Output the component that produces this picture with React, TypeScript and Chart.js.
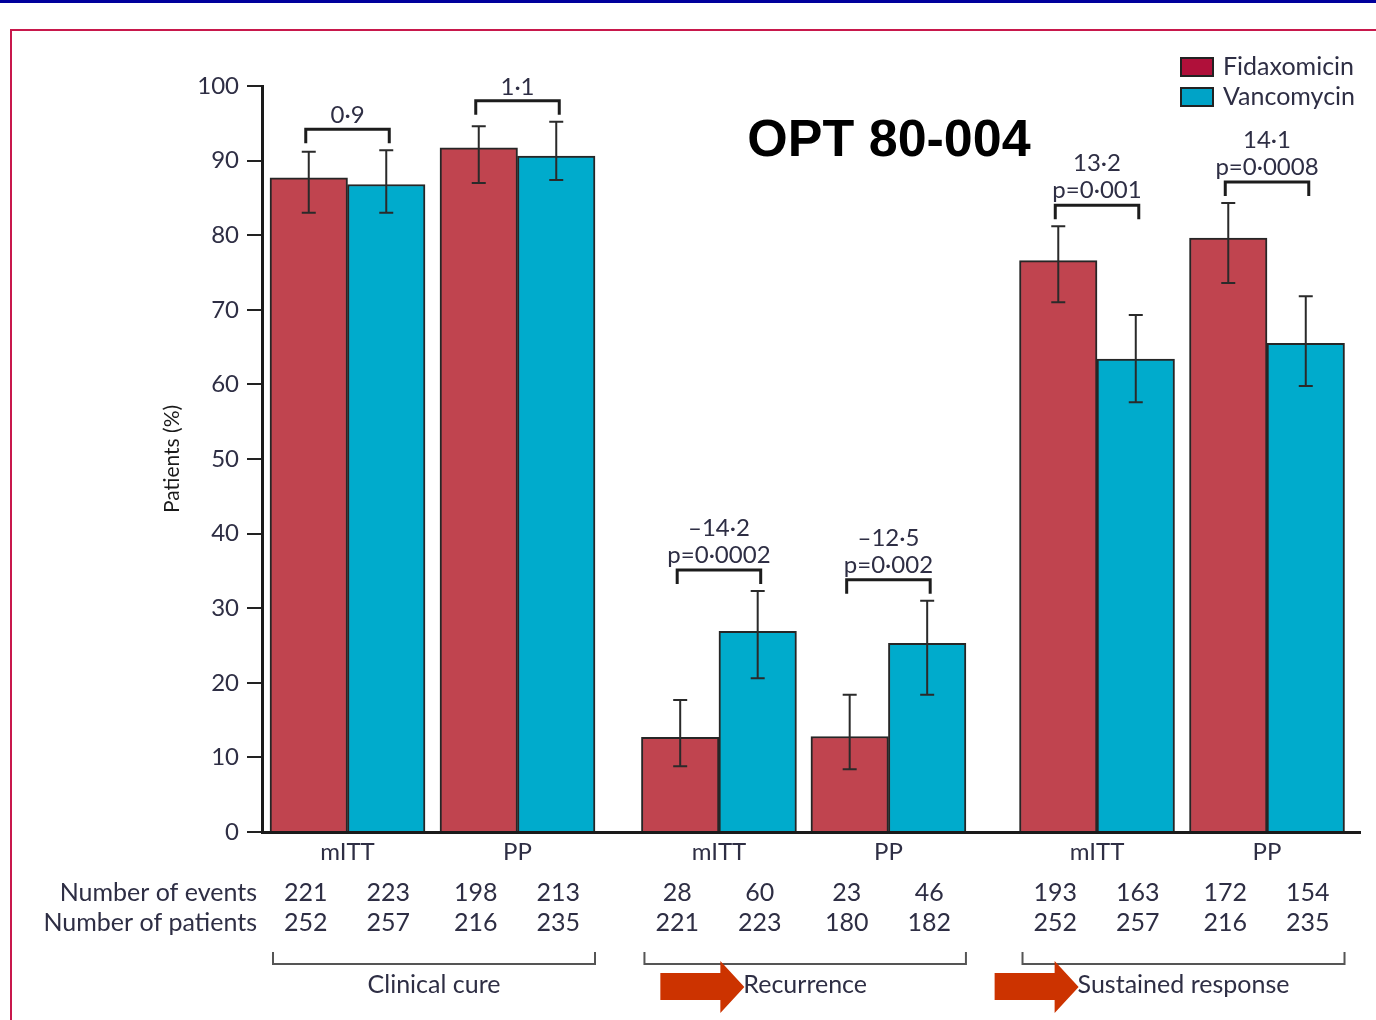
import { useEffect, useRef } from 'react';
import { Chart, registerables } from 'chart.js';

Chart.register(...registerables);

// ---- data ----
const populations = ['mITT', 'PP', 'mITT', 'PP', 'mITT', 'PP'];
const groupNames = ['Clinical cure', 'Recurrence', 'Sustained response'];
const groupMembers = [[0, 1], [2, 3], [4, 5]];
const xSlots = [0, 1, 2.185, 3.182, 4.409, 5.409];

const fidaxomicin = [87.7, 91.7, 12.7, 12.8, 76.6, 79.6];
const vancomycin = [86.8, 90.6, 26.9, 25.3, 63.4, 65.5];
const fidLow = [83.0, 87.0, 8.8, 8.4, 71.0, 73.6];
const fidHigh = [91.2, 94.6, 17.7, 18.4, 81.2, 84.3];
const vancLow = [83.0, 87.4, 20.6, 18.4, 57.6, 59.8];
const vancHigh = [91.4, 95.2, 32.3, 31.0, 69.3, 71.8];

const fidEvents = [221, 198, 28, 23, 193, 172];
const vancEvents = [223, 213, 60, 46, 163, 154];
const fidPatients = [252, 216, 221, 180, 252, 216];
const vancPatients = [257, 235, 223, 182, 257, 235];

const differences = ['0·9', '1·1', '–14·2', '–12·5', '13·2', '14·1'];
const pValues = ['', '', 'p=0·0002', 'p=0·002', 'p=0·001', 'p=0·0008'];

const yMin = 0;
const yMax = 100;
const yStep = 10;

const seriesNames = ['Fidaxomicin', 'Vancomycin'];
const barColors = ['#c0444f', '#00abcc'];
const legendColors = ['#b0103a', '#00a3c7'];
const titleText = 'OPT 80-004';
const rowLabels = ['Number of events', 'Number of patients'];

const FONT = 'Lato, "Open Sans", sans-serif';
const TEXT = '#2e2e44';

const decorPlugin = {
  id: 'decor',
  beforeDraw(chart: any) {
    const ctx = chart.ctx as CanvasRenderingContext2D;
    ctx.save();
    ctx.fillStyle = '#ffffff';
    ctx.fillRect(0, 0, chart.width, chart.height);
    ctx.fillStyle = '#00009c';
    ctx.fillRect(0, 0, chart.width, 3);
    ctx.strokeStyle = '#c8184c';
    ctx.lineWidth = 2;
    ctx.beginPath();
    ctx.moveTo(11, chart.height);
    ctx.lineTo(11, 30);
    ctx.lineTo(chart.width, 30);
    ctx.stroke();
    ctx.restore();
  },
  afterDatasetsDraw(chart: any) {
    const ctx = chart.ctx as CanvasRenderingContext2D;
    const yScale = chart.scales.y;
    const m0 = chart.getDatasetMeta(0);
    const m1 = chart.getDatasetMeta(1);
    const lows = [fidLow, vancLow];
    const highs = [fidHigh, vancHigh];
    ctx.save();

    // error bars
    [m0, m1].forEach((meta: any, d: number) => {
      meta.data.forEach((bar: any, i: number) => {
        const x = bar.x;
        const yl = yScale.getPixelForValue(lows[d][i]);
        const yh = yScale.getPixelForValue(highs[d][i]);
        ctx.strokeStyle = '#2a2a2a';
        ctx.lineWidth = 2;
        ctx.beginPath();
        ctx.moveTo(x, yl);
        ctx.lineTo(x, yh);
        ctx.moveTo(x - 7, yl);
        ctx.lineTo(x + 7, yl);
        ctx.moveTo(x - 7, yh);
        ctx.lineTo(x + 7, yh);
        ctx.stroke();
      });
    });

    // comparison brackets
    for (let i = 0; i < populations.length; i++) {
      const x1 = m0.data[i].x - 3;
      const x2 = m1.data[i].x + 3;
      const top = Math.min(yScale.getPixelForValue(fidHigh[i]), yScale.getPixelForValue(vancHigh[i]));
      const by = top - 21;
      ctx.strokeStyle = '#1c1c1c';
      ctx.lineWidth = 3;
      ctx.beginPath();
      ctx.moveTo(x1, by + 14);
      ctx.lineTo(x1, by);
      ctx.lineTo(x2, by);
      ctx.lineTo(x2, by + 14);
      ctx.stroke();
      ctx.fillStyle = TEXT;
      ctx.font = `24px ${FONT}`;
      ctx.textAlign = 'center';
      ctx.textBaseline = 'alphabetic';
      const cx = (x1 + x2) / 2;
      if (pValues[i]) {
        ctx.fillText(pValues[i], cx, by - 7);
        ctx.fillText(differences[i], cx, by - 34);
      } else {
        ctx.fillText(differences[i], cx, by - 6);
      }
    }

    // population labels
    ctx.textBaseline = 'middle';
    ctx.textAlign = 'center';
    ctx.fillStyle = TEXT;
    ctx.font = `24px ${FONT}`;
    for (let i = 0; i < populations.length; i++) {
      const cx = (m0.data[i].x + m1.data[i].x) / 2;
      ctx.fillText(populations[i], cx, 852);
    }

    // table
    ctx.font = `25px ${FONT}`;
    ctx.textAlign = 'right';
    ctx.fillText(rowLabels[0], 257, 893);
    ctx.fillText(rowLabels[1], 257, 923);
    ctx.textAlign = 'center';
    for (let i = 0; i < populations.length; i++) {
      ctx.fillText(String(fidEvents[i]), m0.data[i].x - 3, 893);
      ctx.fillText(String(vancEvents[i]), m1.data[i].x + 2, 893);
      ctx.fillText(String(fidPatients[i]), m0.data[i].x - 3, 923);
      ctx.fillText(String(vancPatients[i]), m1.data[i].x + 2, 923);
    }

    // group brackets, labels and arrows
    groupMembers.forEach((members, g) => {
      const first = m0.data[members[0]];
      const last = m1.data[members[members.length - 1]];
      const left = first.x - first.width / 2 + 3;
      const right = last.x + last.width / 2;
      ctx.strokeStyle = '#555555';
      ctx.lineWidth = 2;
      ctx.beginPath();
      ctx.moveTo(left, 952);
      ctx.lineTo(left, 964);
      ctx.lineTo(right, 964);
      ctx.lineTo(right, 952);
      ctx.stroke();
      ctx.font = `25px ${FONT}`;
      ctx.fillStyle = TEXT;
      ctx.textAlign = 'center';
      ctx.textBaseline = 'middle';
      const cx = (left + right) / 2;
      ctx.fillText(groupNames[g], cx, 985);
      if (g > 0) {
        const w = ctx.measureText(groupNames[g]).width;
        const tip = cx - w / 2 + 1;
        ctx.fillStyle = '#cc3300';
        ctx.beginPath();
        ctx.moveTo(tip - 84, 973);
        ctx.lineTo(tip - 24, 973);
        ctx.lineTo(tip - 24, 961);
        ctx.lineTo(tip, 987);
        ctx.lineTo(tip - 24, 1013);
        ctx.lineTo(tip - 24, 1000);
        ctx.lineTo(tip - 84, 1000);
        ctx.closePath();
        ctx.fill();
      }
    });

    // legend
    seriesNames.forEach((name, k) => {
      const y = 58 + k * 30;
      ctx.fillStyle = legendColors[k];
      ctx.fillRect(1181, y, 32, 18);
      ctx.strokeStyle = '#222';
      ctx.lineWidth = 2;
      ctx.strokeRect(1181, y, 32, 18);
      ctx.fillStyle = TEXT;
      ctx.font = `25px ${FONT}`;
      ctx.textAlign = 'left';
      ctx.textBaseline = 'middle';
      ctx.fillText(name, 1223, y + 9);
    });

    // title
    ctx.fillStyle = '#000000';
    ctx.font = 'bold 52px "Liberation Sans", Arial, sans-serif';
    ctx.textAlign = 'center';
    ctx.textBaseline = 'middle';
    ctx.fillText(titleText, 889, 142);

    ctx.restore();
  },
};

export default function App() {
  const ref = useRef<HTMLCanvasElement | null>(null);

  useEffect(() => {
    if (!ref.current) return;
    const chart = new Chart(ref.current, {
      type: 'bar',
      data: {
        datasets: [
          {
            label: seriesNames[0],
            data: xSlots.map((x, i) => ({ x, y: fidaxomicin[i] })),
            backgroundColor: barColors[0],
            borderColor: '#262626',
            borderWidth: 2,
          },
          {
            label: seriesNames[1],
            data: xSlots.map((x, i) => ({ x, y: vancomycin[i] })),
            backgroundColor: barColors[1],
            borderColor: '#262626',
            borderWidth: 2,
          },
        ],
      },
      plugins: [decorPlugin],
      options: {
        responsive: false,
        animation: false,
        devicePixelRatio: 1,
        barThickness: 77.5,
        layout: { padding: { left: 158, right: 16, top: 86, bottom: 188 } },
        plugins: {
          legend: { display: false },
          tooltip: { enabled: false },
        },
        scales: {
          x: {
            type: 'linear',
            offset: false,
            min: -0.503,
            max: 5.956,
            z: 1,
            grid: { display: false },
            ticks: { display: false },
            border: { display: true, color: '#1a1a1a', width: 3 },
            afterFit: (s: any) => {
              s.height = 0;
            },
          },
          y: {
            min: yMin,
            max: yMax,
            ticks: {
              stepSize: yStep,
              padding: 8,
              color: TEXT,
              font: { family: FONT, size: 24 },
            },
            grid: {
              display: true,
              drawOnChartArea: false,
              drawTicks: true,
              tickLength: 15,
              color: '#222',
              lineWidth: 2,
            },
            border: { display: true, color: '#1a1a1a', width: 3 },
            title: {
              display: true,
              text: 'Patients (%)',
              color: '#1a1a1a',
              font: { family: FONT, size: 21 },
              padding: { top: 2, bottom: 0 },
            },
            afterFit: (s: any) => {
              s.width = 104;
            },
          },
        },
      } as any,
    });
    return () => chart.destroy();
  }, []);

  return (
    <div style={{ position: 'absolute', left: 0, top: 0, width: 1376, height: 1020 }}>
      <canvas ref={ref} width={1376} height={1020} style={{ display: 'block' }} />
    </div>
  );
}
